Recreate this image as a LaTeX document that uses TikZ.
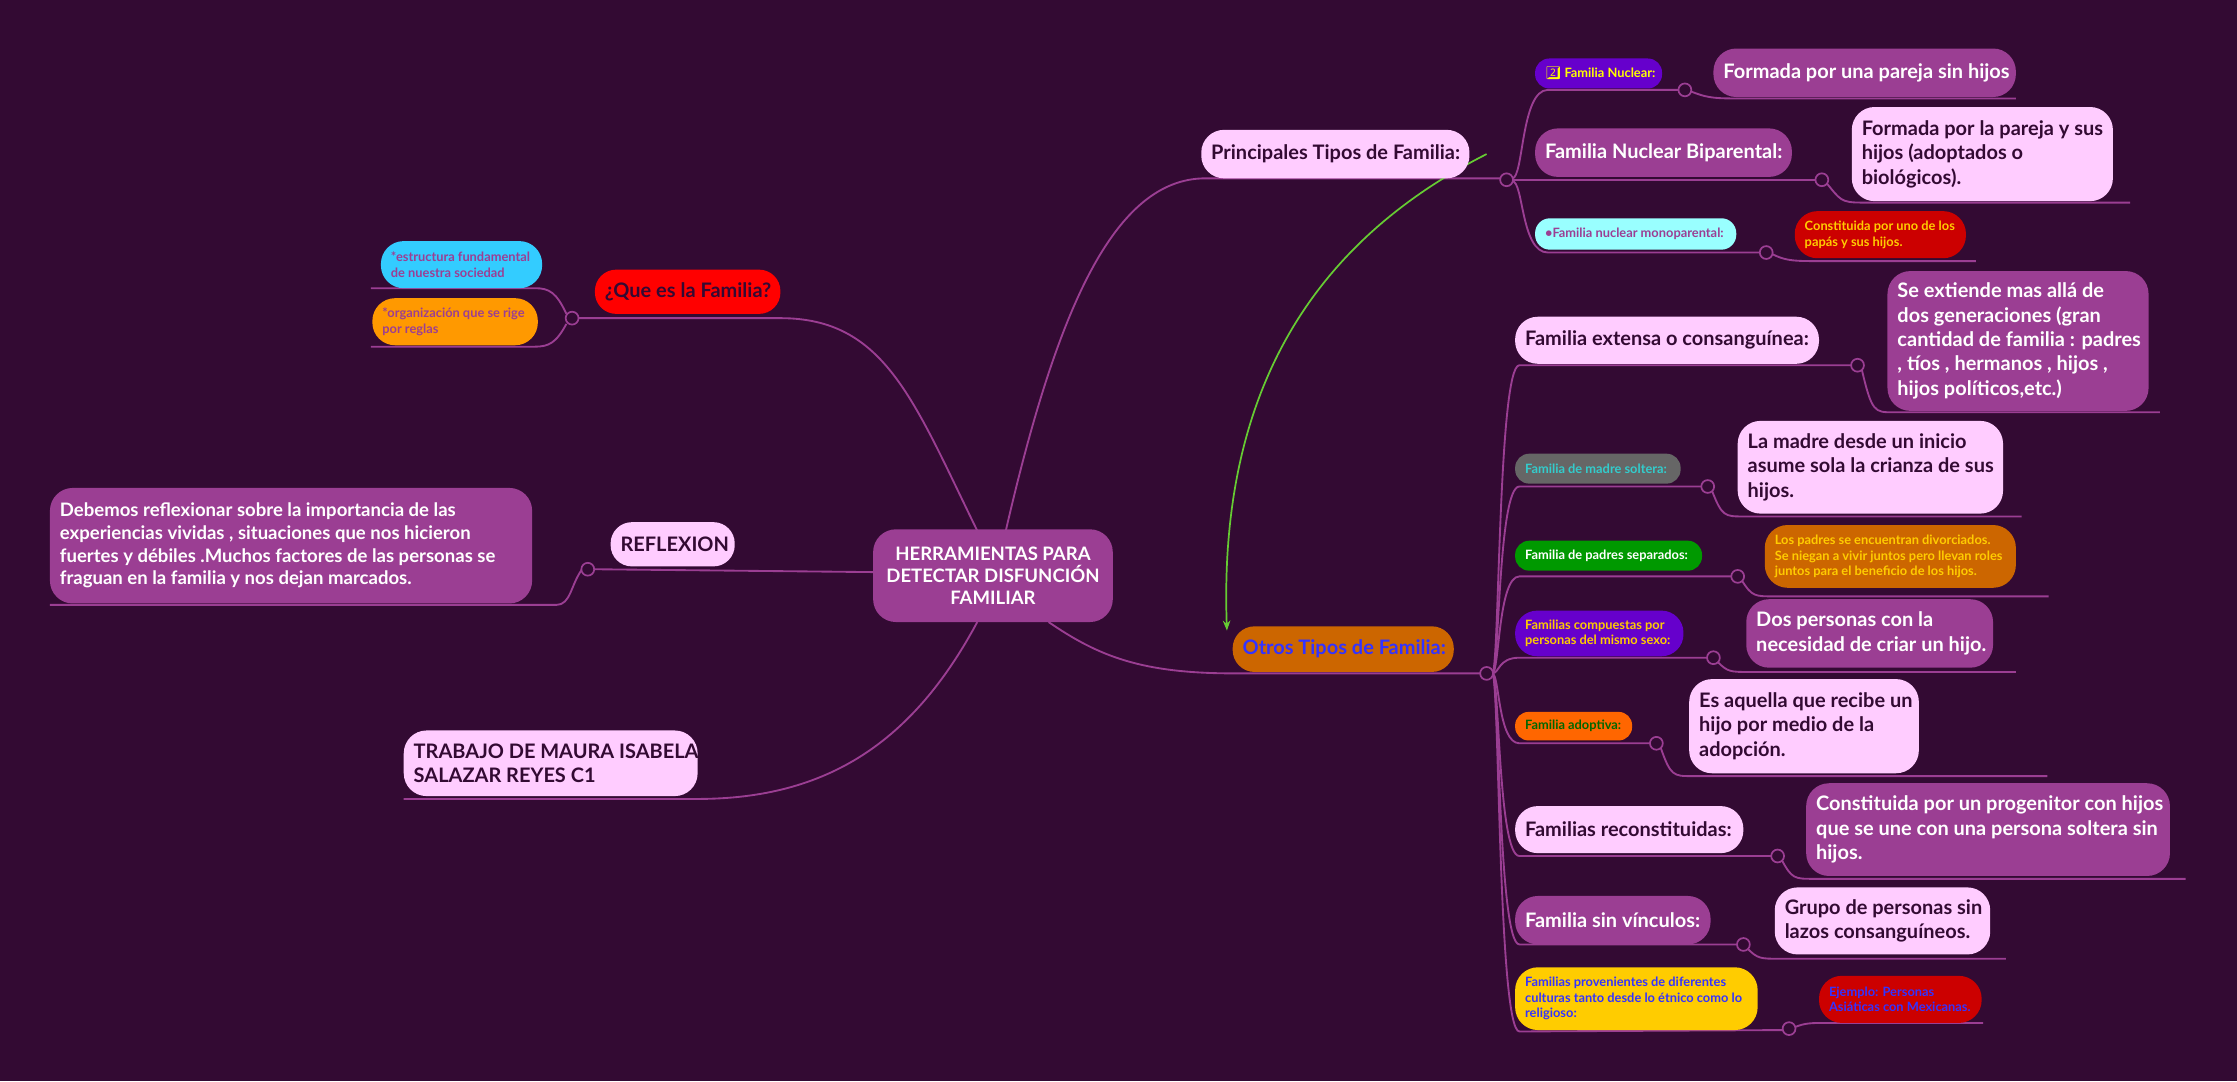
\documentclass[tikz,border=0pt]{standalone}
\usepackage{fontspec}
\setmainfont{Lato}
\newfontfamily\emj{Noto Emoji}
\usetikzlibrary{arrows.meta}
\definecolor{bg}{HTML}{330A33}
\definecolor{ln}{HTML}{9B3E93}
\definecolor{pk}{HTML}{FFCCFF}
\definecolor{mv}{HTML}{9B3E93}
\definecolor{cy}{HTML}{33CCFF}
\definecolor{orn}{HTML}{FF9900}
\definecolor{rd}{HTML}{FF0000}
\definecolor{drd}{HTML}{CC0000}
\definecolor{vio}{HTML}{6600CC}
\definecolor{ylw}{HTML}{FFFF00}
\definecolor{gld}{HTML}{FFCC00}
\definecolor{aq}{HTML}{99FFFF}
\definecolor{brn}{HTML}{CC6600}
\definecolor{gry}{HTML}{666666}
\definecolor{tea}{HTML}{33CCCC}
\definecolor{grn}{HTML}{009900}
\definecolor{dgr}{HTML}{006600}
\definecolor{og}{HTML}{FF6600}
\definecolor{blu}{HTML}{3333FF}
\definecolor{arr}{HTML}{66CC33}
\newcommand\bx[9]{%
 \pgfmathsetmacro\cx{(#2+#4)/2}\pgfmathsetmacro\cy{(#3+#5)/2}%
 \pgfmathsetmacro\ww{#4-#2}\pgfmathsetmacro\hh{#5-#3}%
 \pgfmathsetmacro\rr{min(16,\hh/2-0.6)}%
 \node[box,rounded corners=\rr pt,fill=#6,minimum width=\ww pt,minimum height=\hh pt] (#1) at (\cx,\cy) {};
 \node[lbl,text=#7,font=\bfseries\fontsize{#8}{1.22\dimexpr#8pt\relax}\selectfont] (#1t) at ([xshift=7pt]#1.west) {#9};}
\newcommand\cc[3]{\node[circ] (#1) at (#2,#3) {};}
\tikzset{box/.style={inner sep=0pt,draw=none},
 lbl/.style={anchor=west,align=left,inner sep=0pt},
 circ/.style={circle,draw=ln,line width=1.2pt,fill=bg,minimum size=9pt,inner sep=0pt},
 lk/.style={draw=ln,line width=1.3pt}}
\begin{document}
\begin{tikzpicture}[x=1pt,y=-1pt]
\fill[bg] (0,0) rectangle (1568,758);
\useasboundingbox (0,0) rectangle (1568,758);
% connectors (drawn first)
\coordinate (cT1) at (705,372); \coordinate (cT2) at (685,372);
\coordinate (cB1) at (735,436); \coordinate (cB2) at (685,436);
\coordinate (cL) at (612,401);
\draw[lk] (cT1) .. controls (740,220) and (780,125) .. (845,125) -- (1052,125);
\draw[lk] (cB1) .. controls (770,460) and (800,472) .. (865,472) -- (1038,472);
\draw[lk] (cT2) .. controls (640,280) and (620,223) .. (547,223) -- (406,223);
\draw[lk] (cL) -- (417,399);
\draw[lk] (cB2) .. controls (640,520) and (580,560) .. (489,560) -- (283,560);
% left children of que es
\draw[lk] (397,220) .. controls (390,205) and (385,202) .. (375,202) -- (260,202);
\draw[lk] (397,227) .. controls (390,240) and (385,243) .. (375,243) -- (260,243);
\draw[lk] (408,399) .. controls (400,410) and (400,424) .. (390,424) -- (35,424);
% top right group
\draw[lk] (1060,125) .. controls (1068,125) and (1066,63) .. (1085,63) -- (1177,63);
\draw[lk] (1185,64) .. controls (1195,68) and (1200,69) .. (1215,69) -- (1413,69);
\draw[lk] (1060,126) -- (1273,126);
\draw[lk] (1280,128) .. controls (1290,140) and (1290,142) .. (1305,142) -- (1493,142);
\draw[lk] (1060,127) .. controls (1068,127) and (1066,177) .. (1085,177) -- (1234,177);
\draw[lk] (1242,178) .. controls (1250,182) and (1255,183) .. (1270,183) -- (1385,183);
% bottom group
\foreach \y/\c/\e/\ey in {256/1302/1514/289, 341/1197/1417/362, 404/1218/1436/418, 461/1201/1413/471, 521/1161/1435/544, 600/1246/1532/616, 662/1222/1406/672}{
 \draw[lk] (1046,472) .. controls (1051,472) and (1050,\y) .. (1065,\y) -- (\c-4,\y);
 \draw[lk] (\c+3,\y+3) .. controls (\c+10,\ey) and (\c+12,\ey) .. (\c+25,\ey) -- (\e,\ey);}
\draw[lk] (1046,472) .. controls (1051,472) and (1050,723) .. (1065,723) -- (1250,722);
\draw[lk] (1258,720) .. controls (1265,717) and (1270,717) .. (1280,717) -- (1390,717);
% green arrow
\coordinate (ga) at (1042,108); \coordinate (gb) at (860,442);
\draw[arr,line width=1.2pt,-{Stealth[length=7pt]}] (ga) .. controls (900,180) and (855,300) .. (gb);
% nodes
\bx{ctr}{612}{371}{780}{436}{mv}{white}{13}{}
\node[align=center,text=white,font=\bfseries\fontsize{13}{15.5}\selectfont] at (ctr) {HERRAMIENTAS PARA\\DETECTAR DISFUNCIÓN\\FAMILIAR};
\bx{ptf}{842}{91}{1030}{125}{pk}{bg}{14}{Principales Tipos de Familia:}
\bx{otf}{864}{439}{1019}{471}{brn}{blu}{14}{Otros Tipos de Familia:}
\bx{que}{417}{189}{547}{220}{rd}{bg}{14}{¿Que es la Familia?}
\bx{est}{267}{169}{380}{202}{cy}{mv}{9}{*estructura fundamental\\de nuestra sociedad}
\bx{org}{261}{209}{377}{242}{orn}{mv}{9}{*organización que se rige\\por reglas}
\bx{ref}{428}{366}{515}{397}{pk}{bg}{14}{REFLEXION}
\bx{deb}{35}{342}{373}{423}{mv}{white}{13}{Debemos reflexionar sobre la importancia de las\\experiencias vividas , situaciones que nos hicieron\\fuertes y débiles .Muchos factores de las personas se\\fraguan en la familia y nos dejan marcados.}
\bx{tra}{283}{512}{489}{558}{pk}{bg}{14}{TRABAJO DE MAURA ISABELA\\SALAZAR REYES C1}
\bx{fn}{1076}{41}{1165}{62}{vio}{ylw}{9}{{\emj 2️⃣} Familia Nuclear:}
\bx{fps}{1201}{34}{1413}{68}{mv}{white}{14}{Formada por una pareja sin hijos}
\bx{fnb}{1076}{90}{1256}{124}{mv}{white}{14}{Familia Nuclear Biparental:}
\bx{fpy}{1298}{75}{1481}{141}{pk}{bg}{14}{Formada por la pareja y sus\\hijos (adoptados o\\biológicos).}
\bx{fnm}{1076}{153}{1217}{175}{aq}{mv}{9}{•Familia nuclear monoparental:}
\bx{con}{1258}{148}{1378}{181}{drd}{gld}{9}{Constituida por uno de los\\papás y sus hijos.}
\bx{fe}{1062}{222}{1275}{255}{pk}{bg}{14}{Familia extensa o consanguínea:}
\bx{se}{1323}{190}{1506}{288}{mv}{white}{14}{Se extiende mas allá de\\dos generaciones (gran\\cantidad de familia : padres\\, tíos , hermanos , hijos ,\\hijos políticos,etc.)}
\bx{fms}{1062}{318}{1178}{339}{gry}{tea}{9}{Familia de madre soltera:}
\bx{lm}{1218}{295}{1404}{360}{pk}{bg}{14}{La madre desde un inicio\\asume sola la crianza de sus\\hijos.}
\bx{fpsep}{1062}{379}{1193}{400}{grn}{white}{9}{Familia de padres separados:}
\bx{lp}{1237}{368}{1413}{412}{brn}{gld}{9}{Los padres se encuentran divorciados.\\Se niegan a vivir juntos pero llevan roles\\juntos para el beneficio de los hijos.}
\bx{fc}{1062}{428}{1180}{460}{vio}{gld}{9}{Familias compuestas por\\personas del mismo sexo:}
\bx{dp}{1224}{420}{1397}{468}{mv}{white}{14}{Dos personas con la\\necesidad de criar un hijo.}
\bx{fa}{1062}{499}{1144}{519}{og}{dgr}{9}{Familia adoptiva:}
\bx{ea}{1184}{476}{1345}{542}{pk}{bg}{14}{Es aquella que recibe un\\hijo por medio de la\\adopción.}
\bx{fr}{1062}{565}{1222}{598}{pk}{bg}{14}{Familias reconstituidas:}
\bx{cp}{1266}{549}{1521}{614}{mv}{white}{14}{Constituida por un progenitor con hijos\\que se une con una persona soltera sin\\hijos.}
\bx{fsv}{1062}{628}{1199}{662}{mv}{white}{14}{Familia sin vínculos:}
\bx{gp}{1244}{622}{1395}{669}{pk}{bg}{14}{Grupo de personas sin\\lazos consanguíneos.}
\bx{fpd}{1062}{678}{1232}{722}{gld}{blu}{9}{Familias provenientes de diferentes\\culturas tanto desde lo étnico como lo\\religioso:}
\bx{ej}{1275}{684}{1389}{717}{drd}{blu}{9}{Ejemplo: Personas\\Asiáticas con Mexicanas.}
% circles
\cc{c0}{401}{223}\cc{c1}{412}{399}\cc{c2}{1056}{126}\cc{c3}{1042}{472}
\cc{c4}{1181}{63}\cc{c5}{1277}{126}\cc{c6}{1238}{177}
\cc{d1}{1302}{256}\cc{d2}{1197}{341}\cc{d3}{1218}{404}\cc{d4}{1201}{461}\cc{d5}{1161}{521}\cc{d6}{1246}{600}\cc{d7}{1222}{662}\cc{d8}{1254}{721}
\end{tikzpicture}
\end{document}
